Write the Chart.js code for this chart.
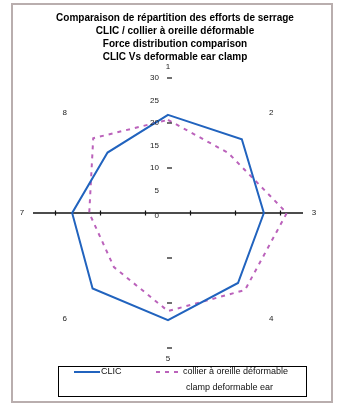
<!DOCTYPE html>
<html>
<head>
<meta charset="utf-8">
<script src="https://cdn.jsdelivr.net/npm/chart.js@4.4.1/dist/chart.umd.min.js"></script>
<style>
  html, body { margin: 0; padding: 0; background: #fff; }
  body { width: 342px; height: 405px; position: relative; overflow: hidden; }
  #frame { position: absolute; left: 11px; top: 3px; width: 322px; height: 400px; box-sizing: border-box; border: 2px solid #b9aeae; }
  #wrap { position: absolute; left: 12px; top: 0; width: 326px; height: 405px; }
</style>
</head>
<body>
<div id="frame"></div>
<div id="wrap"><canvas id="force-chart"></canvas></div>
<script>
const categories = ["1", "2", "3", "4", "5", "6", "7", "8"];
const clicValues = [21.8, 23.2, 21.3, 22.0, 23.8, 23.7, 21.3, 19.0];
const collarValues = [20.7, 18.9, 26.4, 24.2, 21.8, 17.0, 17.5, 23.5];
const seriesNames = ["CLIC", "collier à oreille déformable\nclamp deformable ear"];
const radialTicks = [0, 5, 10, 15, 20, 25, 30];
const hTickMarks = [5, 15, 25];
const vTickMarks = [10, 20, 30];
const titleLines = [
  "Comparaison de répartition des efforts de serrage",
  "CLIC / collier à oreille déformable",
  "Force distribution comparison",
  "CLIC Vs deformable ear clamp",
];

const FONT = "'Liberation Sans', Arial, sans-serif";
const canvas = document.querySelector("#force-chart");

// title, axis marks, tick labels, category labels and the boxed legend
const axisExtras = {
  id: "axisExtras",
  afterDraw(chart) {
    const r = chart.scales.r;
    const ctx = chart.ctx;
    const xc = r.xCenter;
    const yc = r.yCenter;
    ctx.save();

    // title sits a bit right of the plot centre, like the original
    ctx.fillStyle = "#000";
    ctx.font = "bold 10px " + FONT;
    ctx.textAlign = "center";
    ctx.textBaseline = "middle";
    titleLines.forEach((line, i) => {
      ctx.fillText(line, chart.width / 2, 18.5 + i * 13);
    });

    ctx.strokeStyle = "#111";
    ctx.lineWidth = 1.2;
    hTickMarks.forEach((v) => {
      const d = r.getDistanceFromCenterForValue(v);
      [-1, 1].forEach((s) => {
        ctx.beginPath();
        ctx.moveTo(xc + s * d, yc - 2.5);
        ctx.lineTo(xc + s * d, yc + 2.5);
        ctx.stroke();
      });
    });
    vTickMarks.forEach((v) => {
      const d = r.getDistanceFromCenterForValue(v);
      [-1, 1].forEach((s) => {
        ctx.beginPath();
        ctx.moveTo(xc - 1, yc + s * d);
        ctx.lineTo(xc + 4, yc + s * d);
        ctx.stroke();
      });
    });

    ctx.fillStyle = "#222";
    ctx.font = "8px " + FONT;
    ctx.textAlign = "right";
    radialTicks.forEach((v) => {
      const d = r.getDistanceFromCenterForValue(v);
      ctx.fillText(String(v), xc - 9, yc - d + (v === 0 ? 3 : 0));
    });

    ctx.textAlign = "center";
    categories.forEach((c, i) => {
      const p = r.getPointPosition(i, r.drawingArea + 11);
      ctx.fillText(c, p.x, p.y + (i % 2 ? 3 : 0));
    });

    // legend
    const box = { left: 46, top: 366, width: 248, height: 30 };
    ctx.strokeStyle = "#000";
    ctx.lineWidth = 1;
    ctx.strokeRect(box.left + 0.5, box.top + 0.5, box.width, box.height);
    const entries = [
      { x: 62, y: 372 },
      { x: 144, y: 372 },
    ];
    ctx.font = "9px " + FONT;
    chart.data.datasets.forEach((ds, i) => {
      const e = entries[i];
      ctx.strokeStyle = ds.borderColor;
      ctx.lineWidth = 2;
      ctx.setLineDash(ds.borderDash || []);
      ctx.beginPath();
      ctx.moveTo(e.x, e.y);
      ctx.lineTo(e.x + 26, e.y);
      ctx.stroke();
      ctx.setLineDash([]);
      ctx.fillStyle = "#111";
      ctx.textAlign = "left";
      ds.label.split("\n").forEach((line, k) => {
        ctx.fillText(line, e.x + 27 + (k ? 3 : 0), e.y + k * 16);
      });
    });
    ctx.restore();
  },
};

const forceChart = new Chart(canvas, {
  type: "radar",
  data: {
    labels: categories,
    datasets: [
      {
        label: seriesNames[0],
        data: clicValues,
        borderColor: "#2163be",
        borderWidth: 2,
        fill: false,
        pointRadius: 0,
        tension: 0,
      },
      {
        label: seriesNames[1],
        data: collarValues,
        borderColor: "#bb62bb",
        borderWidth: 2,
        borderDash: [4, 5],
        fill: false,
        pointRadius: 0,
        tension: 0,
      },
    ],
  },
  options: {
    responsive: true,
    maintainAspectRatio: false,
    animation: false,
    layout: {
      padding: { left: 21, right: 35, top: 78, bottom: 57 },
    },
    scales: {
      r: {
        min: 0,
        max: 30,
        ticks: { display: false, stepSize: 5 },
        grid: { display: false },
        pointLabels: { display: false },
        angleLines: {
          display: true,
          color: (c) => (c.index % 4 === 2 ? "#111" : "rgba(0,0,0,0)"),
          lineWidth: (c) => (c.index % 4 === 2 ? 1.5 : 0),
        },
      },
    },
    plugins: {
      legend: { display: false },
      tooltip: { enabled: false },
      title: { display: false },
    },
  },
  plugins: [axisExtras],
});
</script>
</body>
</html>
